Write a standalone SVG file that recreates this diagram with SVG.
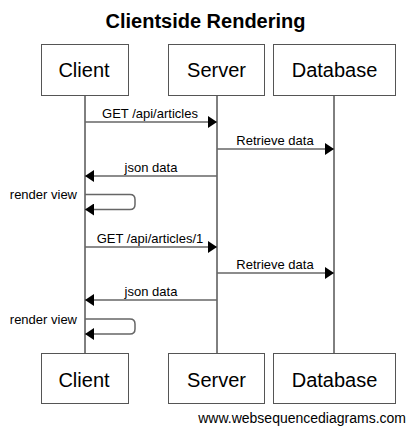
<svg xmlns="http://www.w3.org/2000/svg" width="410" height="428" viewBox="0 0 410 428">
<style>
text{font-family:"Liberation Sans",Arial,sans-serif;fill:#000}
.box{fill:#fff;stroke:#555;stroke-width:1}
.pt{font-size:20px;text-anchor:middle}
.life{stroke:#000;stroke-width:1}
.msg{stroke:#666;stroke-width:1.5;fill:none}
.lbl{font-size:13px;text-anchor:middle}
</style>
<defs>
<marker id="ah" markerWidth="9" markerHeight="12" refX="9" refY="6" orient="auto" markerUnits="userSpaceOnUse">
<path d="M0,0 L9,6 L0,12 Z" fill="#000"/>
</marker>
</defs>
<rect width="410" height="428" fill="#fff"/>
<text x="205.5" y="28" font-size="20" font-weight="bold" text-anchor="middle">Clientside Rendering</text>
<g id="lifelines">
<line class="life" x1="85" y1="96" x2="85" y2="354"/>
<line class="life" x1="217" y1="96" x2="217" y2="354"/>
<line class="life" x1="334" y1="96" x2="334" y2="354"/>
</g>
<g id="client-top"><rect class="box" x="41.5" y="44.5" width="87" height="51"/><text class="pt" x="84" y="77">Client</text></g>
<g id="server-top"><rect class="box" x="168.5" y="44.5" width="96" height="51"/><text class="pt" x="216.5" y="77">Server</text></g>
<g id="database-top"><rect class="box" x="273.5" y="44.5" width="122" height="51"/><text class="pt" x="334.5" y="77">Database</text></g>
<g id="client-bottom"><rect class="box" x="41.5" y="353.5" width="87" height="50"/><text class="pt" x="84" y="387">Client</text></g>
<g id="server-bottom"><rect class="box" x="168.5" y="353.5" width="96" height="50"/><text class="pt" x="216.5" y="387">Server</text></g>
<g id="database-bottom"><rect class="box" x="273.5" y="353.5" width="122" height="50"/><text class="pt" x="334.5" y="387">Database</text></g>
<g id="connectors">
<line class="msg" x1="85" y1="122" x2="217" y2="122" marker-end="url(#ah)"/>
<text class="lbl" x="150" y="118">GET /api/articles</text>
<line class="msg" x1="217" y1="149" x2="334" y2="149" marker-end="url(#ah)"/>
<text class="lbl" x="275" y="145">Retrieve data</text>
<line class="msg" x1="217" y1="176" x2="85" y2="176" marker-end="url(#ah)"/>
<text class="lbl" x="151" y="172">json data</text>
<path class="msg" d="M85,194.5 H130 Q135,194.5 135,199.5 V204.5 Q135,209.5 130,209.5 H85" marker-end="url(#ah)"/>
<text x="77" y="199" font-size="13" text-anchor="end">render view</text>
<line class="msg" x1="85" y1="247" x2="217" y2="247" marker-end="url(#ah)"/>
<text class="lbl" x="150" y="243">GET /api/articles/1</text>
<line class="msg" x1="217" y1="273" x2="334" y2="273" marker-end="url(#ah)"/>
<text class="lbl" x="275" y="269">Retrieve data</text>
<line class="msg" x1="217" y1="300" x2="85" y2="300" marker-end="url(#ah)"/>
<text class="lbl" x="151" y="296">json data</text>
<path class="msg" d="M85,319 H130 Q135,319 135,324 V329 Q135,334 130,334 H85" marker-end="url(#ah)"/>
<text x="77" y="324" font-size="13" text-anchor="end">render view</text>
</g>
<text x="406" y="423" font-size="14" text-anchor="end">www.websequencediagrams.com</text>
</svg>
